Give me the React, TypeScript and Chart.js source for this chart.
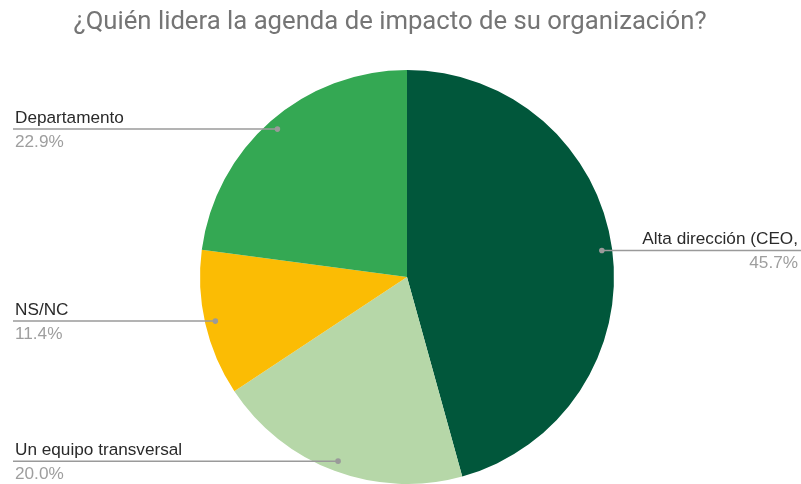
import React, { useEffect, useRef } from "react";
import { Chart, registerables } from "chart.js";

Chart.register(...registerables);

const TITLE = "¿Quién lidera la agenda de impacto de su organización?";
const categories = ["Alta dirección (CEO,", "Un equipo transversal", "NS/NC", "Departamento"];
const values = [45.7, 20.0, 11.4, 22.9];
const percentLabels = ["45.7%", "20.0%", "11.4%", "22.9%"];
const colors = ["#01573b", "#b6d7a8", "#fbbc04", "#34a853"];

const W = 801;
const H = 484;

const labelPlugin = {
  id: "sideLabels",
  afterDraw(chart: any) {
    const ctx = chart.ctx as CanvasRenderingContext2D;
    ctx.save();
    // title
    ctx.font = "25.7px Roboto";
    ctx.fillStyle = "#757575";
    ctx.textAlign = "center";
    ctx.textBaseline = "alphabetic";
    ctx.fillText(TITLE, 390, 28.5);

    const meta = chart.getDatasetMeta(0);
    meta.data.forEach((arc: any, i: number) => {
      const mid = (arc.startAngle + arc.endAngle) / 2;
      const r = arc.outerRadius * 0.95;
      const px = arc.x + Math.cos(mid) * r;
      const py = arc.y + Math.sin(mid) * r;
      const right = Math.cos(mid) > 0;
      ctx.strokeStyle = "#9a9a9a";
      ctx.lineWidth = 1.5;
      ctx.beginPath();
      if (right) {
        ctx.moveTo(px, py);
        ctx.lineTo(W, py);
      } else {
        ctx.moveTo(13, py);
        ctx.lineTo(px, py);
      }
      ctx.stroke();
      ctx.fillStyle = "#9a9a9a";
      ctx.beginPath();
      ctx.arc(px, py, 2.8, 0, Math.PI * 2);
      ctx.fill();

      ctx.font = "17.2px 'Liberation Sans', Arial";
      ctx.textAlign = right ? "right" : "left";
      const tx = right ? 798 : 15;
      ctx.fillStyle = "#2a2a2a";
      ctx.fillText(categories[i], tx, py - 6.5);
      ctx.fillStyle = "#9e9e9e";
      ctx.fillText(percentLabels[i], tx, py + 17.5);
    });
    ctx.restore();
  },
};

export default function App() {
  const ref = useRef<HTMLCanvasElement>(null);
  useEffect(() => {
    const chart = new Chart(ref.current!, {
      type: "pie",
      data: {
        labels: categories,
        datasets: [
          {
            data: values,
            backgroundColor: colors,
            borderWidth: 0,
          },
        ],
      },
      options: {
        animation: false,
        responsive: false,
        layout: { padding: { left: 13, right: 0, top: 70, bottom: 0 } },
        plugins: {
          legend: { display: false },
          tooltip: { enabled: false },
          title: { display: false },
        },
      },
      plugins: [labelPlugin],
    });
    return () => chart.destroy();
  }, []);
  return (
    <div style={{ position: "fixed", left: 0, top: 0, width: W, height: H, background: "#fff" }}>
      <canvas ref={ref} width={W} height={H} />
    </div>
  );
}
